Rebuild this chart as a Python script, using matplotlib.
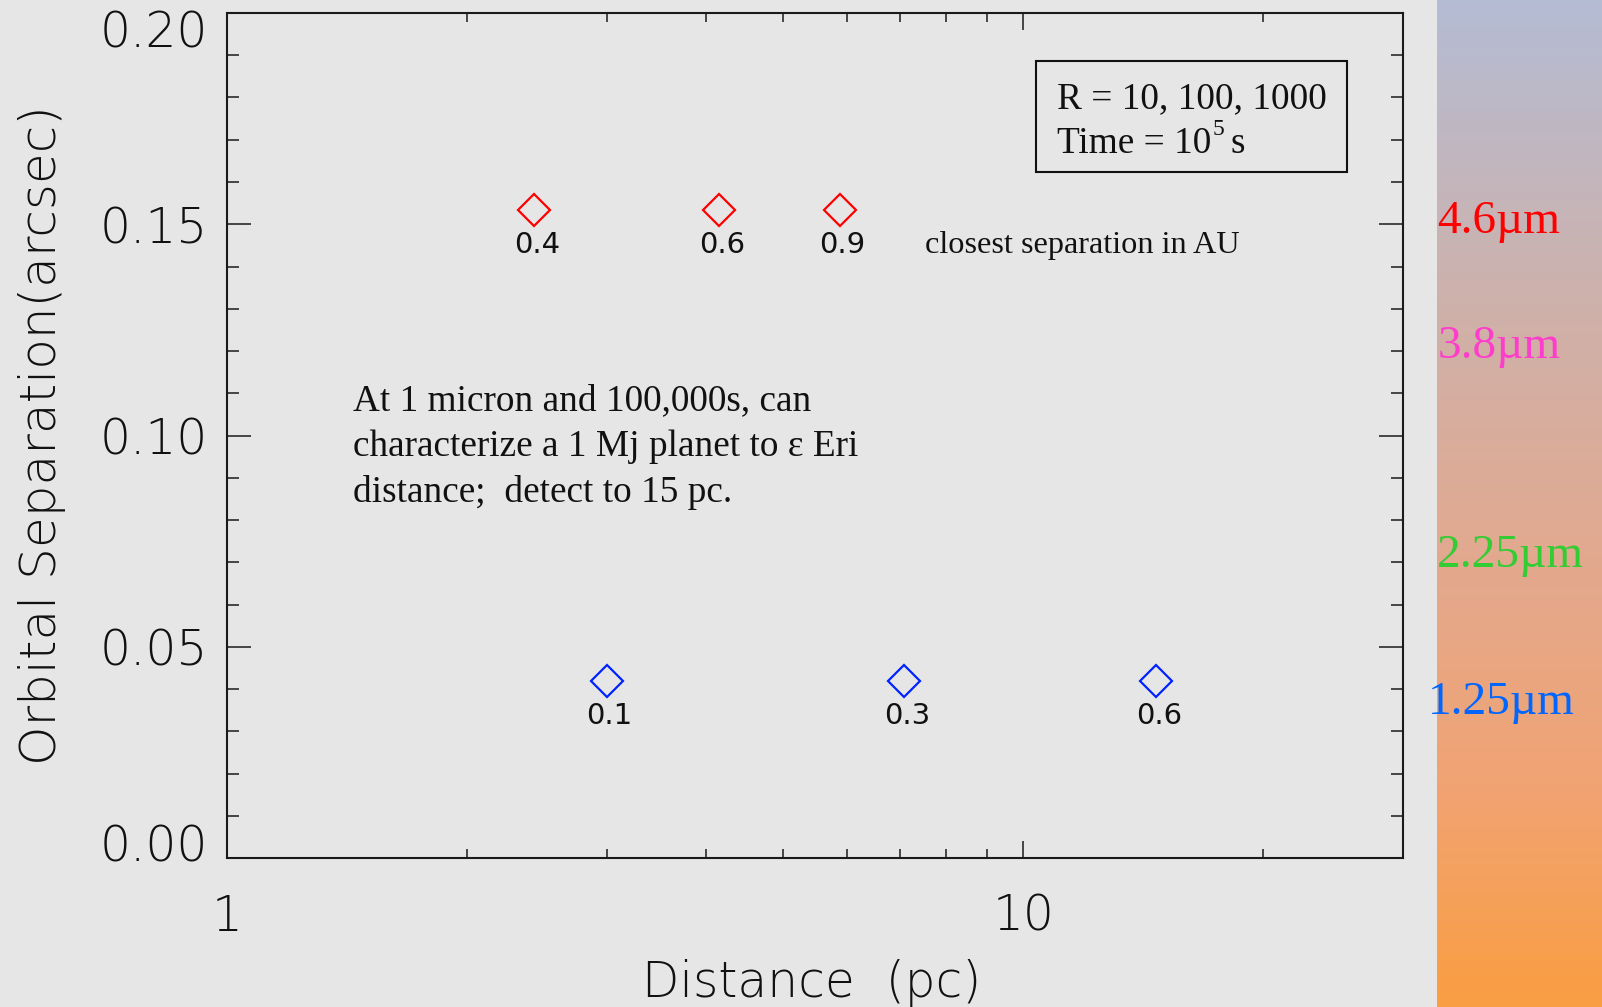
import numpy as np
import matplotlib
matplotlib.use("Agg")
import matplotlib.pyplot as plt
from matplotlib.ticker import FixedLocator, NullFormatter, LogLocator
from matplotlib.transforms import ScaledTranslation
from matplotlib.colors import LinearSegmentedColormap
from matplotlib.patches import Rectangle

# ---------------- data ----------------
red_dist = [2.43, 4.15, 5.88]          # pc
red_sep = [0.1534, 0.1534, 0.1534]     # arcsec
red_labels = ["0.4", "0.6", "0.9"]

blue_dist = [3.0, 7.09, 14.7]
blue_sep = [0.0418, 0.0418, 0.0418]
blue_labels = ["0.1", "0.3", "0.6"]

y_major = [0.00, 0.05, 0.10, 0.15, 0.20]
y_major_labels = ["0.00", "0.05", "0.10", "0.15", "0.20"]
x_major = [1, 10]
x_major_labels = ["1", "10"]

band_labels = ["4.6µm", "3.8µm", "2.25µm", "1.25µm"]
band_colors = ["#ff0000", "#ff3dcc", "#33cc33", "#0066ff"]

# ---------------- figure ----------------
W, H = 1602, 1007
BG = "#e6e6e6"
fig = plt.figure(figsize=(W / 100, H / 100), dpi=100, facecolor=BG)

# gradient strip on the right
gax = fig.add_axes([1437 / W, 0, (W - 1437) / W, 1])
grad_cmap = LinearSegmentedColormap.from_list(
    "strip",
    [(0.0, "#b4bcd4"), (0.3, "#ceb1ab"), (0.55, "#e2a98f"),
     (0.78, "#f1a373"), (1.0, "#fa9e42")])
gax.imshow(np.linspace(0, 1, 256).reshape(-1, 1), cmap=grad_cmap,
           aspect="auto", extent=[0, 1, 1, 0])
gax.set_axis_off()

ax = fig.add_axes([227 / W, 1 - 858 / H, (1403 - 227) / W, (858 - 13) / H])
ax.set_facecolor(BG)
ax.set_xscale("log")
ax.set_xlim(1, 30)
ax.set_ylim(0, 0.2)

for s in ax.spines.values():
    s.set_linewidth(1.5)
    s.set_color("#1a1a1a")

sans = ["DejaVu Sans"]
serif = ["Liberation Serif", "DejaVu Serif"]
SW = "light"

# ticks
ax.yaxis.set_major_locator(FixedLocator(y_major))
ax.yaxis.set_minor_locator(FixedLocator(np.arange(0.01, 0.2, 0.01)))
ax.set_yticks(y_major)
ax.set_yticklabels(y_major_labels, family=sans, fontsize=35, color="#111111",
                   fontweight=SW)
ax.xaxis.set_major_locator(FixedLocator(x_major))
ax.xaxis.set_minor_locator(LogLocator(base=10, subs=np.arange(2, 10)))
ax.xaxis.set_minor_formatter(NullFormatter())
ax.set_xticks(x_major)
ax.set_xticklabels(x_major_labels, family=sans, fontsize=35, color="#111111",
                   fontweight=SW)

ax.tick_params(axis="y", which="major", direction="in", length=17, width=1.1,
               left=True, right=True, pad=14, color="#1a1a1a")
ax.tick_params(axis="y", which="minor", direction="in", length=8.5, width=1.1,
               left=True, right=True, color="#1a1a1a")
ax.tick_params(axis="x", which="major", direction="in", length=12, width=1.1,
               bottom=True, top=True, pad=25, color="#1a1a1a")
ax.tick_params(axis="x", which="minor", direction="in", length=6.5, width=1.1,
               bottom=True, top=True, color="#1a1a1a")

# shift end y tick labels inward (IDL style)
ylabs = ax.get_yticklabels()
ylabs[0].set_transform(ylabs[0].get_transform() + ScaledTranslation(0, 15 / 100, fig.dpi_scale_trans))
ylabs[-1].set_transform(ylabs[-1].get_transform() + ScaledTranslation(0, -15 / 100, fig.dpi_scale_trans))

ax.set_xlabel("Distance  (pc)", family=sans, fontsize=35, color="#111111",
              fontweight=SW)
ax.xaxis.set_label_coords(0.497, -0.119)
ax.set_ylabel("Orbital Separation(arcsec)", family=sans, fontsize=36,
              color="#111111", fontweight=SW)
ax.yaxis.set_label_coords(-0.137, 0.5)

# markers
ax.plot(red_dist, red_sep, linestyle="none", marker="D", markersize=16,
        markerfacecolor="none", markeredgecolor="#ff0000", markeredgewidth=1.6)
ax.plot(blue_dist, blue_sep, linestyle="none", marker="D", markersize=16,
        markerfacecolor="none", markeredgecolor="#0022ff", markeredgewidth=1.6)

for xs, ys, labs in [(red_dist, red_sep, red_labels), (blue_dist, blue_sep, blue_labels)]:
    for xv, yv, lab in zip(xs, ys, labs):
        ax.annotate(lab, (xv, yv), xytext=(2, -31), textcoords="offset points",
                    ha="center", va="baseline", family=sans, fontsize=21,
                    color="#111111")

# text annotations
fig.text(925 / W, 1 - 253 / H, "closest separation in AU", family=serif,
         fontsize=23.2, color="#111111", va="baseline", ha="left")
# multi-line note: va="baseline" anchors the last line's baseline
fig.text(353 / W, 1 - 502 / H,
         "At 1 micron and 100,000s, can\ncharacterize a 1 Mj planet to ε Eri\ndistance;  detect to 15 pc.",
         family=serif, fontsize=26.8, color="#111111", va="baseline", ha="left",
         linespacing=1.42)

# box
bx0, bx1, by0, by1 = 1036, 1347, 172, 61
rect = Rectangle((bx0 / W, 1 - by0 / H), (bx1 - bx0) / W, (by0 - by1) / H,
                 transform=fig.transFigure, fill=False, edgecolor="#111111",
                 linewidth=1.5)
fig.add_artist(rect)
fig.text(1057 / W, 1 - 108 / H, "R = 10, 100, 1000", family=serif,
         fontsize=26.9, color="#111111", va="baseline", ha="left")
t2 = fig.text(1057 / W, 1 - 153 / H, "Time = 10", family=serif,
              fontsize=26.9, color="#111111", va="baseline", ha="left")
fig.canvas.draw()
x_end = t2.get_window_extent().x1
fig.text((x_end + 1) / W, 1 - 135 / H, "5", family=serif, fontsize=17,
         color="#111111", va="baseline", ha="left")
fig.text((x_end + 19) / W, 1 - 153 / H, "s", family=serif, fontsize=26.9,
         color="#111111", va="baseline", ha="left")

# band labels on the gradient strip
band_x = [1437, 1438, 1437, 1428]
band_y = [233, 358, 567, 714]
for lab, col, bxp, byp in zip(band_labels, band_colors, band_x, band_y):
    fig.text(bxp / W, 1 - byp / H, lab, family=serif, fontsize=34,
             color=col, va="baseline", ha="left")

fig.savefig("out.png", dpi=100, facecolor=BG)
